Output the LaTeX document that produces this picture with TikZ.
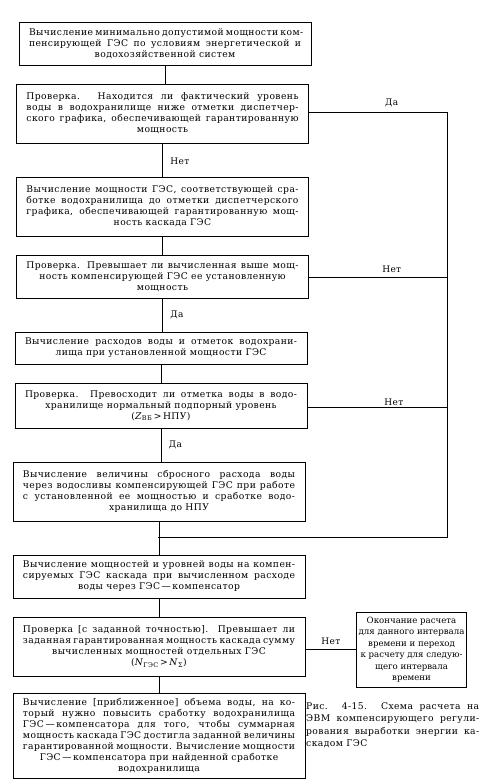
\documentclass[tikz,border=0pt]{standalone}
\usepackage{fontspec}
\setmainfont{DejaVu Serif}[LetterSpace=4.5]
\newfontfamily\plainfont{DejaVu Serif}
\newlength\jw \setlength\jw{272pt}
\newcommand\J[1]{\makebox[\jw][s]{#1}}
\newlength\cw \setlength\cw{173pt}
\newcommand\CL[1]{\makebox[\cw][s]{#1}}
\tikzset{
  box/.style={draw, line width=0.7pt, minimum width=292pt, inner sep=2pt, align=center,
              font=\fontsize{9.2}{11}\selectfont},
  conn/.style={line width=0.6pt},
  lbl/.style={font=\fontsize{9}{10}\selectfont, inner sep=1.5pt}
}
\begin{document}
\begin{tikzpicture}[x=1pt,y=-1pt]
\useasboundingbox (0,0) rectangle (497,782);
\node[box, minimum height=43pt] (b1) at (165,43.5) {%
\J{Вычисление минимально допустимой мощности ком-}\\
\J{пенсирующей ГЭС по условиям энергетической и}\\
водохозяйственной систем};
\node[box, minimum height=59pt] (b2) at (162.5,113.5) {%
\J{Проверка. Находится ли фактический уровень}\\
\J{воды в водохранилище ниже отметки диспетчер-}\\
\J{ского графика, обеспечивающей гарантированную}\\
мощность};
\node[box, minimum height=59pt] (b3) at (162.5,206.5) {%
\J{Вычисление мощности ГЭС, соответствующей сра-}\\
\J{ботке водохранилища до отметки диспетчерского}\\
\J{графика, обеспечивающей гарантированную мощ-}\\
ность каскада ГЭС};
\node[box, minimum height=43pt] (b4) at (162.5,276.5) {%
\J{Проверка. Превышает ли вычисленная выше мощ-}\\
ность компенсирующей ГЭС ее установленную\\
мощность};
\node[box, minimum height=32pt] (b5) at (161,348) {%
\J{Вычисление расходов воды и отметок водохрани-}\\
лища при установленной мощности ГЭС};
\node[box, minimum height=45pt] (b6) at (161,405.5) {%
\J{Проверка. Превосходит ли отметка воды в водо-}\\
хранилище нормальный подпорный уровень\\
(\textit{Z}\textsubscript{ВБ}\,>\,НПУ)};
\node[box, minimum height=59pt] (b7) at (159,491.5) {%
\J{Вычисление величины сбросного расхода воды}\\
\J{через водосливы компенсирующей ГЭС при работе}\\
\J{с установленной ее мощностью и сработке водо-}\\
хранилища до НПУ};
\node[box, minimum height=43pt] (b8) at (159,576.5) {%
\J{Вычисление мощностей и уровней воды на компен-}\\
\J{сируемых ГЭС каскада при вычисленном расходе}\\
воды через ГЭС\,—\,компенсатор};
\node[box, minimum height=59pt] (b9) at (159,646.5) {%
\J{Проверка [с заданной точностью]. Превышает ли}\\
\J{заданная гарантированная мощность каскада сумму}\\
вычисленных мощностей отдельных ГЭС\\
(\textit{N}\textsubscript{ГЭС}\,>\,\textit{N}\textsubscript{Σ})};
\node[box, minimum width=107pt, minimum height=75pt, font=\plainfont\fontsize{8.6}{11.5}\selectfont] (b10) at (411.5,649.5) {%
Окончание расчета\\
для данного интервала\\
времени и переход\\
к расчету для следую-\\
щего интервала\\
времени};
\node[box, minimum height=85pt] (b11) at (159,735.5) {%
\J{Вычисление [приближенное] объема воды, на ко-}\\
\J{торый нужно повысить сработку водохранилища}\\
\J{ГЭС\,—\,компенсатора для того, чтобы суммарная}\\
\J{мощность каскада ГЭС достигла заданной величины}\\
\J{гарантированной мощности. Вычисление мощности}\\
ГЭС\,—\,компенсатора при найденной сработке\\
водохранилища};
\node[anchor=north west, align=left, inner sep=0pt, font=\fontsize{9.2}{12.5}\selectfont] (cap) at (306,702) {%
\CL{Рис. 4-15. Схема расчета на}\\
\CL{ЭВМ компенсирующего регули-}\\
\CL{рования выработки энергии ка-}\\
скадом ГЭС};
% right-hand collector
\coordinate (r1) at (447,112);
\coordinate (r4) at (447,277);
\coordinate (r6) at (447,407);
\coordinate (rb) at (447,537);
\coordinate (j) at (158,537);
\draw[conn] (b1.south) -- (b1.south |- b2.north);
\draw[conn] (b2.south) -- node[lbl, right=6pt, pos=0.55] {Нет} (b2.south |- b3.north);
\draw[conn] (b3.south) -- (b3.south |- b4.north);
\draw[conn] (b4.south) -- node[lbl, right=6pt] {Да} (b4.south |- b5.north);
\draw[conn] (b5.south) -- (b5.south |- b6.north);
\draw[conn] (b6.south) -- node[lbl, right=6pt] {Да} (b6.south |- b7.north);
\draw[conn] (b7.south) -- (b7.south |- b8.north);
\draw[conn] (b8.south) -- (b8.south |- b9.north);
\draw[conn] (b9.south) -- (b9.south |- b11.north);
\draw[conn] (b2.east |- r1) -- node[lbl, above=3pt, pos=0.6] {Да} (r1) -- (rb) -- (j);
\draw[conn] (b4.east |- r4) -- node[lbl, above=3pt, pos=0.6] {Нет} (r4);
\draw[conn] (b6.east |- r6) -- node[lbl, above, pos=0.62] {Нет} (r6);
\draw[conn] (b9.east |- b10.west) -- node[lbl, above=3pt] {Нет} (b10.west);
\end{tikzpicture}
\end{document}
